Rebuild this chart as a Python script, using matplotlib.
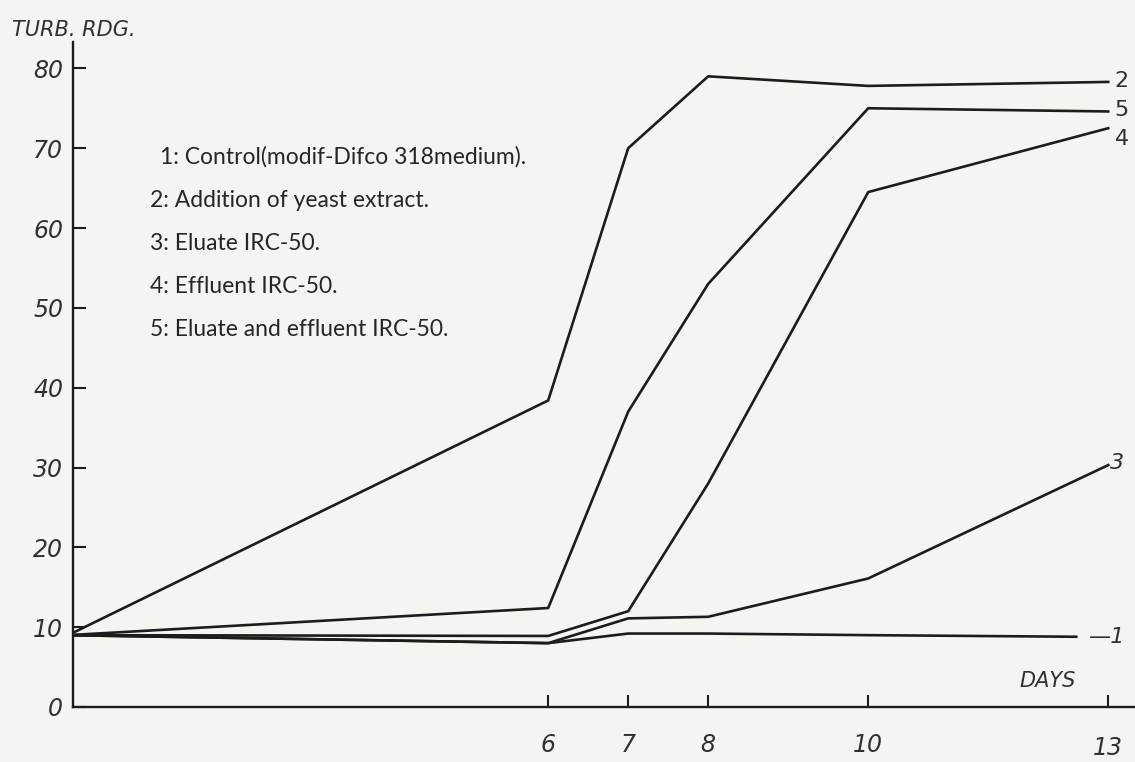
import numpy as np
import matplotlib
matplotlib.use("Agg")
import matplotlib.pyplot as plt

# days of reading
days = [0, 6, 7, 8, 10, 13]
days_ctrl = [0, 6, 7, 8, 10, 12.6]   # curve 1 is drawn a bit shorter

# turbidity readings per curve
control = [9.0, 8.0, 9.2, 9.2, 9.0, 8.8]          # 1
yeast = [9.0, 38.4, 70.0, 79.0, 77.8, 78.3]       # 2
eluate = [9.0, 8.0, 11.1, 11.3, 16.1, 30.3]       # 3
effluent = [9.0, 8.9, 12.0, 28.0, 64.5, 72.5]     # 4
eluate_effl = [9.0, 12.4, 37.0, 53.0, 75.0, 74.6]  # 5

curve_ids = ["1", "2", "3", "4", "5"]
legend_txt = [
    "1: Control(modif-Difco 318medium).",
    "2: Addition of yeast extract.",
    "3: Eluate IRC-50.",
    "4: Effluent IRC-50.",
    "5: Eluate and effluent IRC-50.",
]
yticks = [0, 10, 20, 30, 40, 50, 60, 70, 80]
xticks = [6, 7, 8, 10, 13]

bg = "#f4f4f1"
ink = "#1c1c1c"
txtc = "#303030"

fig = plt.figure(figsize=(11.35, 7.62), dpi=100, facecolor=bg)
ax = fig.add_axes([73 / 1135, 1 - 707 / 762, 1 - 73 / 1135, (707 - 42) / 762])
ax.set_facecolor(bg)

ax.plot(days_ctrl, control, color=ink, lw=1.9)
for s in [yeast, eluate, effluent, eluate_effl]:
    ax.plot(days, s, color=ink, lw=1.9)

ax.set_xlim(0.06, 0.06 + (1135 - 73) / 80)
ax.set_ylim(0, 83.3)

for side in ["top", "right"]:
    ax.spines[side].set_visible(False)
for side in ["left", "bottom"]:
    ax.spines[side].set_linewidth(1.7)
    ax.spines[side].set_color(ink)

ax.set_yticks(yticks)
ax.set_yticklabels([str(v) for v in yticks], fontsize=17, style="italic",
                   family="DejaVu Sans", color=txtc)
ax.set_xticks(xticks)
ax.set_xticklabels([str(v) for v in xticks], fontsize=17, style="italic",
                   family="DejaVu Sans", color=txtc)
ax.tick_params(axis="y", direction="in", length=9, width=1.5, pad=7, color=ink)
ax.tick_params(axis="x", direction="in", length=9, width=1.5, pad=19, color=ink)
ax.get_xticklabels()[-1].set_y(-0.004)

# axis titles
fig.text(12 / 1135, 1 - 30 / 762, "TURB. RDG.", fontsize=15, style="italic",
         color=txtc, va="center", ha="left")
ax.text(12.6, 2.0, "DAYS", fontsize=15, style="italic", color=txtc,
        ha="right", va="bottom")

# curve numbers at the right end
end_pos = {"1": (12.75, 8.8), "2": (13.08, 78.4), "3": (13.02, 30.6),
           "4": (13.08, 71.2), "5": (13.08, 74.8)}
for cid in curve_ids:
    x, y = end_pos[cid]
    txt = "\u2014" + cid if cid == "1" else cid
    ax.text(x, y, txt, fontsize=16, color=txtc, va="center", ha="left",
            style="italic" if cid in ("1", "3") else "normal")

# legend block
for i, t in enumerate(legend_txt):
    x0 = 1.15 if i == 0 else 1.02
    ax.text(x0, 68.9 - i * 5.4, t, fontsize=16.5, family="Lato",
            color="#262626", va="center", ha="left")

fig.savefig("out.png", dpi=100, facecolor=bg)
